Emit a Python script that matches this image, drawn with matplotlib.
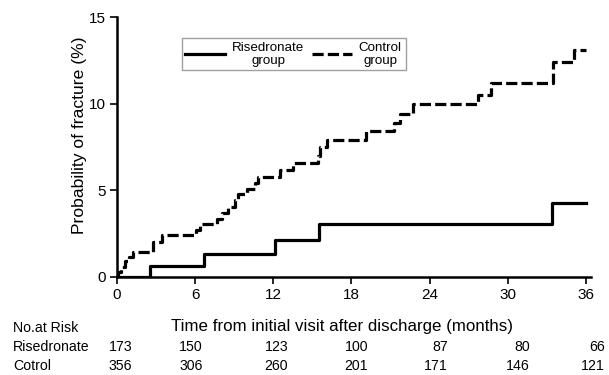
import matplotlib
matplotlib.use("Agg")
import matplotlib.pyplot as plt

plt.rcParams['font.family'] = ['Liberation Sans', 'DejaVu Sans']

# Risedronate group step curve (months, %)
ris_t = [0, 2.5, 6.7, 12.1, 15.5, 33.4, 36]
ris_p = [0, 0.64, 1.31, 2.12, 3.05, 4.3, 4.3]

# Control group step curve (months, %)
ctl_t = [0, 0.1, 0.3, 0.6, 0.9, 1.2, 2.8, 3.45, 6.1, 6.4, 7.7, 8.05, 8.55, 9.05,
         9.3, 9.95, 10.6, 10.85, 12.5, 13.5, 15.45, 15.6, 16.1, 19.1, 21.3, 21.7,
         22.7, 27.7, 28.7, 33.5, 35.1, 36]
ctl_p = [0, 0.3, 0.6, 0.9, 1.15, 1.45, 2.02, 2.4, 2.7, 3.05, 3.37, 3.72, 4.05, 4.43,
         4.78, 5.1, 5.43, 5.78, 6.17, 6.6, 7.0, 7.5, 7.94, 8.42, 8.9, 9.44,
         9.97, 10.54, 11.18, 12.43, 13.1, 13.1]

x_ticks = [0, 6, 12, 18, 24, 30, 36]
y_ticks = [0, 5, 10, 15]

risk_rows = ["Risedronate", "Cotrol"]
risk_ris = [173, 150, 123, 100, 87, 80, 66]
risk_ctl = [356, 306, 260, 201, 171, 146, 121]

W, H = 609, 375
fig = plt.figure(figsize=(W / 100, H / 100), dpi=100)
ax = fig.add_axes([117 / W, 1 - 277 / H, (591 - 117) / W, (277 - 17.3) / H])

ax.step(ris_t, ris_p, where='post', color='black', lw=2.3, label='Risedronate\ngroup')
ax.step(ctl_t, ctl_p, where='post', color='black', lw=2.3, dashes=(3.5, 1.3),
        label='Control\ngroup')

ax.set_xlim(0, 36.4)
ax.set_ylim(0, 15)
ax.set_xticks(x_ticks)
ax.set_yticks(y_ticks)
ax.tick_params(direction='out', length=5, width=1.2, labelsize=11, pad=3)
for s in ['top', 'right']:
    ax.spines[s].set_visible(False)
for s in ['left', 'bottom']:
    ax.spines[s].set_linewidth(1.8)
ax.set_ylabel('Probability of fracture (%)', fontsize=12.6)
ax.yaxis.set_label_coords((87 - 117) / (591 - 117), (277 - 135) / (277 - 17.3))

leg = ax.legend(ncol=2, loc='upper left',
                bbox_to_anchor=((181.5 - 117) / (591 - 117), (277 - 38) / (277 - 17.3)),
                fontsize=9.6, frameon=True, fancybox=False, handlelength=3.0,
                handletextpad=0.5, columnspacing=0.6, borderpad=0.28, borderaxespad=0,
                labelspacing=0.2)
leg.get_frame().set_edgecolor('#888888')
leg.get_frame().set_linewidth(1.0)
for t in leg.get_texts():
    t.set_multialignment('center')
    t.set_linespacing(1.1)

# x-axis label and risk table in figure pixel coordinates
fig.text(342 / W, 1 - 326 / H, 'Time from initial visit after discharge (months)',
         ha='center', va='center', fontsize=12.2)
fig.text(13 / W, 1 - 328 / H, 'No.at Risk', ha='left', va='center', fontsize=10.2)
row_y = [347, 366]
num_x = [132, 203, 288, 368, 448, 530, 605]
for name, vals, yy in zip(risk_rows, [risk_ris, risk_ctl], row_y):
    fig.text(13 / W, 1 - yy / H, name, ha='left', va='center', fontsize=10.2)
    for v, xx in zip(vals, num_x):
        fig.text(xx / W, 1 - yy / H, str(v), ha='right', va='center', fontsize=10.2)

fig.savefig('out.png', dpi=100)
